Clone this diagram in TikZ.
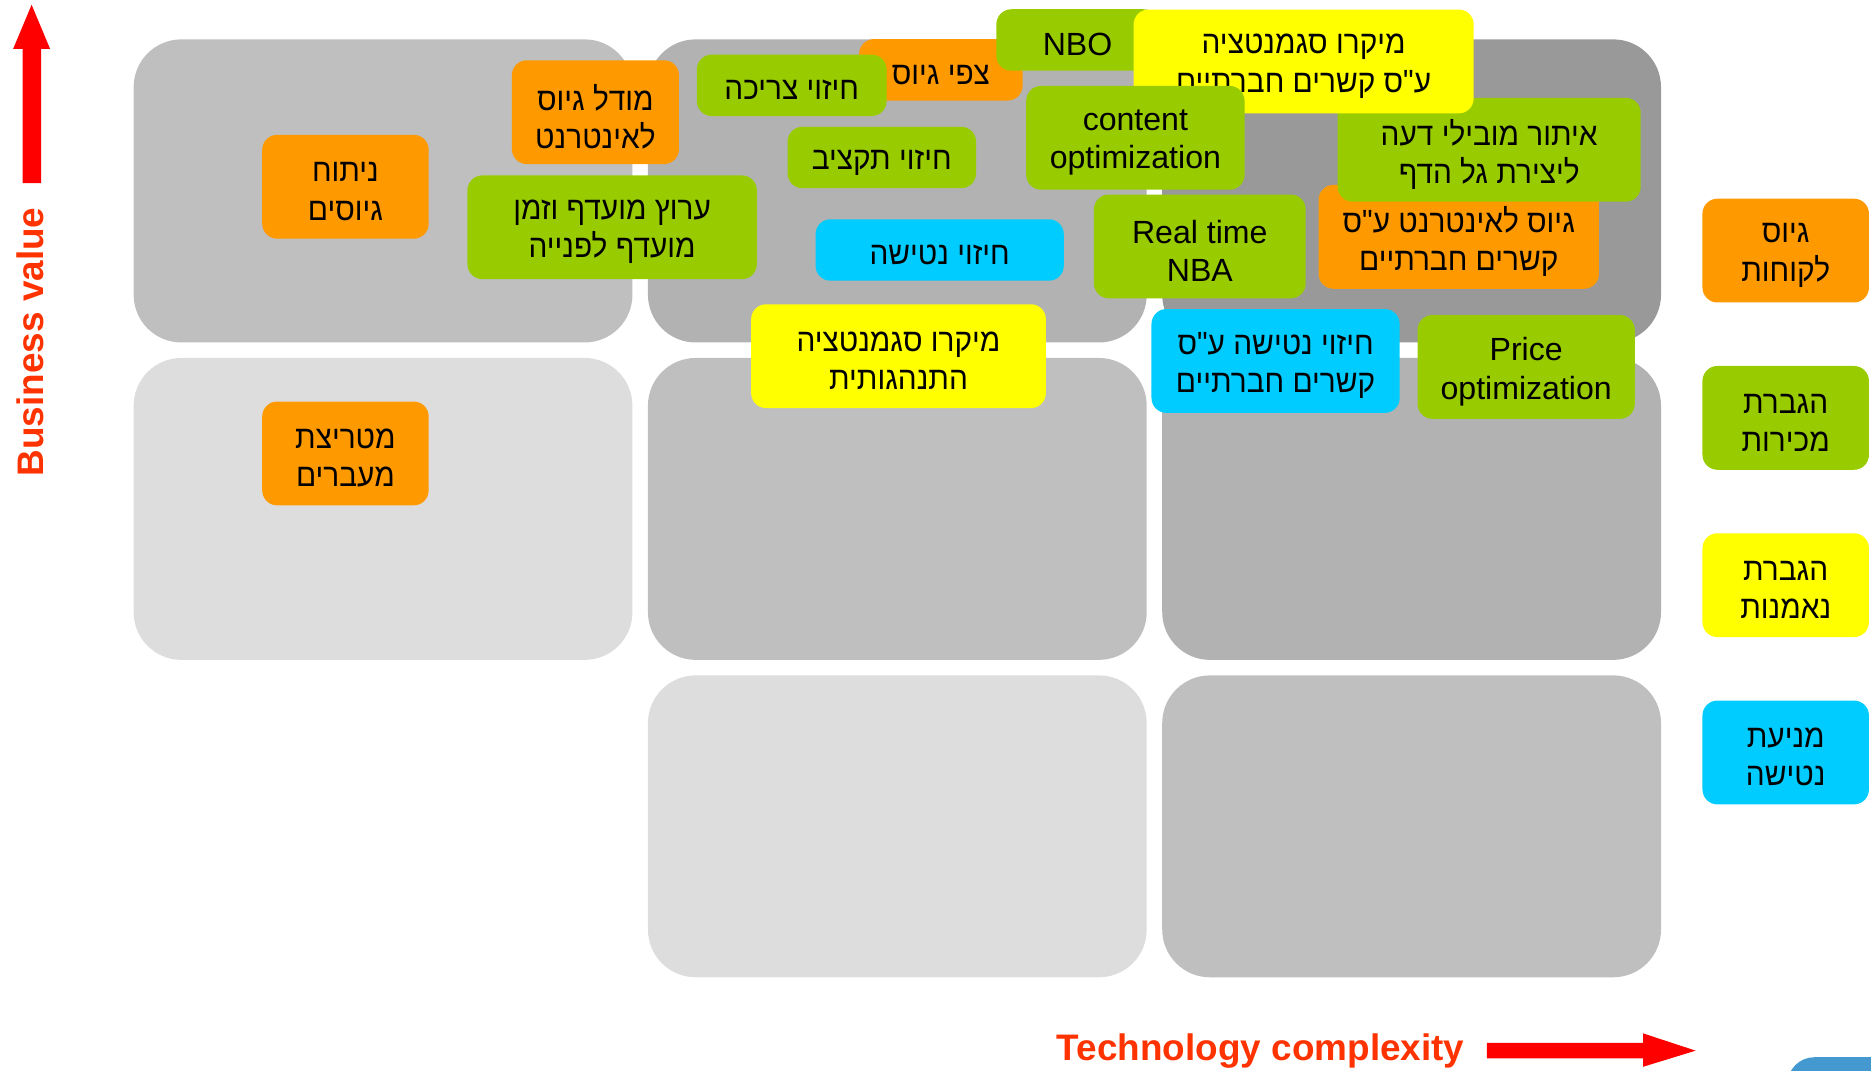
\documentclass[tikz,border=0pt]{standalone}
\usepackage{fontspec}
\setmainfont{Liberation Sans}
\newfontfamily\hebfont[Script=Hebrew,FakeStretch=0.93]{Liberation Sans}
\TeXXeTstate=1
\usepackage{xcolor}
\usetikzlibrary{positioning}

\definecolor{orangebox}{HTML}{FF9900}
\definecolor{greenbox}{HTML}{99CC00}
\definecolor{yellowbox}{HTML}{FFFF00}
\definecolor{cyanbox}{HTML}{00CCFF}
\definecolor{axisred}{HTML}{FF0000}
\definecolor{labelred}{HTML}{FF3300}
\definecolor{grayA}{HTML}{999999}
\definecolor{grayB}{HTML}{B2B2B2}
\definecolor{grayC}{HTML}{BFBFBF}
\definecolor{grayD}{HTML}{DDDDDD}
\definecolor{cornerblue}{HTML}{4499D0}

\newcommand{\drop}[1]{\raisebox{-2.3pt}[\height][\depth]{#1}}
\newcommand{\heb}[1]{\drop{\hebfont\beginR #1\endR}}
\newcommand{\cell}[5]{\fill[#5, rounded corners=0.8cm] (#1,#2) rectangle (#3,#4);}

\begin{document}
\begin{tikzpicture}[
  tag/.style={rounded corners=0.25cm, inner sep=0pt, align=center, text=black,
              font=\fontsize{15.3}{18.2}\selectfont},
  twoline/.style={tag, minimum height=1.74cm},
  oneline/.style={tag, minimum height=1.03cm},
  legendbox/.style={twoline, minimum width=2.79cm},
  axislabel/.style={text=labelred, font=\bfseries\fontsize{17.6}{20}\selectfont}
]
\useasboundingbox (0,0) rectangle (31.36,-17.95);

% grid of value / complexity cells
\cell{2.24}{-0.66}{10.60}{-5.74}{grayC}
\cell{10.86}{-0.66}{19.22}{-5.74}{grayB}
\cell{19.48}{-0.66}{27.84}{-5.74}{grayA}
\cell{2.24}{-6.00}{10.60}{-11.06}{grayD}
\cell{10.86}{-6.00}{19.22}{-11.06}{grayC}
\cell{19.48}{-6.00}{27.84}{-11.06}{grayB}
\cell{10.86}{-11.32}{19.22}{-16.38}{grayD}
\cell{19.48}{-11.32}{27.84}{-16.38}{grayC}

% projects
\node[twoline, fill=orangebox, minimum width=2.79cm] (nitu) at (5.79,-3.13) {\heb{ניתוח}\\\heb{גיוסים}};
\node[twoline, fill=orangebox, minimum width=2.79cm] (matrix) at (5.79,-7.60) {\heb{מטריצת}\\\heb{מעברים}};
\node[twoline, fill=orangebox, minimum width=2.80cm] (model) at (9.98,-1.88) {\heb{מודל גיוס}\\\heb{לאינטרנט}};
\node[twoline, fill=greenbox, minimum width=4.85cm] (arutz) at (10.26,-3.81) {\heb{ערוץ מועדף וזמן}\\\heb{מועדף לפנייה}};
\node[oneline, fill=orangebox, minimum width=2.74cm] (tzfi) at (15.77,-1.17) {\heb{צפי גיוס}};
\node[oneline, fill=greenbox, minimum width=3.18cm] (tzrika) at (13.27,-1.43) {\heb{חיזוי צריכה}};
\node[oneline, fill=greenbox, minimum width=3.16cm] (taktziv) at (14.78,-2.64) {\heb{חיזוי תקציב}};
\node[oneline, fill=greenbox, minimum width=2.72cm] (nbo) at (18.06,-0.67) {\drop{NBO}};
\node[twoline, fill=orangebox, minimum width=4.70cm] (netsoc) at (24.45,-3.97) {\heb{גיוס לאינטרנט ע"ס}\\\heb{קשרים חברתיים}};
\node[twoline, fill=greenbox, minimum width=5.08cm] (itur) at (24.96,-2.51) {\heb{איתור מובילי דעה}\\\heb{ליצירת גל הדף}};
\node[twoline, fill=yellowbox, minimum width=5.70cm] (microsoc) at (21.85,-1.03) {\heb{מיקרו סגמנטציה}\\\heb{ע"ס קשרים חברתיים}};
\node[twoline, fill=greenbox, minimum width=3.66cm] (content) at (19.03,-2.31) {\drop{content}\\\drop{optimization}};
\node[twoline, fill=greenbox, minimum width=3.55cm] (realtime) at (20.11,-4.13) {\drop{Real time}\\\drop{NBA}};
\node[oneline, fill=cyanbox, minimum width=4.16cm] (churn) at (15.75,-4.19) {\heb{חיזוי נטישה}};
\node[twoline, fill=yellowbox, minimum width=4.94cm] (microbeh) at (15.06,-5.97) {\heb{מיקרו סגמנטציה}\\\heb{התנהגותית}};
\node[twoline, fill=cyanbox, minimum width=4.16cm] (churnsoc) at (21.38,-6.05) {\heb{חיזוי נטישה ע"ס}\\\heb{קשרים חברתיים}};
\node[twoline, fill=greenbox, minimum width=3.64cm] (price) at (25.58,-6.15) {\drop{Price}\\\drop{optimization}};

% legend
\node[legendbox, fill=orangebox] (leg1) at (29.93,-4.20) {\heb{גיוס}\\\heb{לקוחות}};
\node[legendbox, fill=greenbox, below=1.05cm of leg1] (leg2) {\heb{הגברת}\\\heb{מכירות}};
\node[legendbox, fill=yellowbox, below=1.05cm of leg2] (leg3) {\heb{הגברת}\\\heb{נאמנות}};
\node[legendbox, fill=cyanbox, below=1.05cm of leg3] (leg4) {\heb{מניעת}\\\heb{נטישה}};

% axes
\fill[axisred] (0.38,-3.07) -- (0.38,-0.82) -- (0.22,-0.82) -- (0.53,-0.08)
  -- (0.84,-0.82) -- (0.69,-0.82) -- (0.69,-3.07) -- cycle;
\node[axislabel, rotate=90] (bizval) at (0.5,-5.73) {Business value};
\fill[axisred] (24.92,-17.48) -- (27.54,-17.48) -- (27.54,-17.32) -- (28.42,-17.61)
  -- (27.54,-17.88) -- (27.54,-17.74) -- (24.92,-17.74) -- cycle;
\node[axislabel] (techcx) at (21.13,-17.62) {Technology complexity};

\fill[cornerblue, rounded corners=0.45cm] (29.96,-17.72) rectangle (32.5,-19);
\end{tikzpicture}
\end{document}
